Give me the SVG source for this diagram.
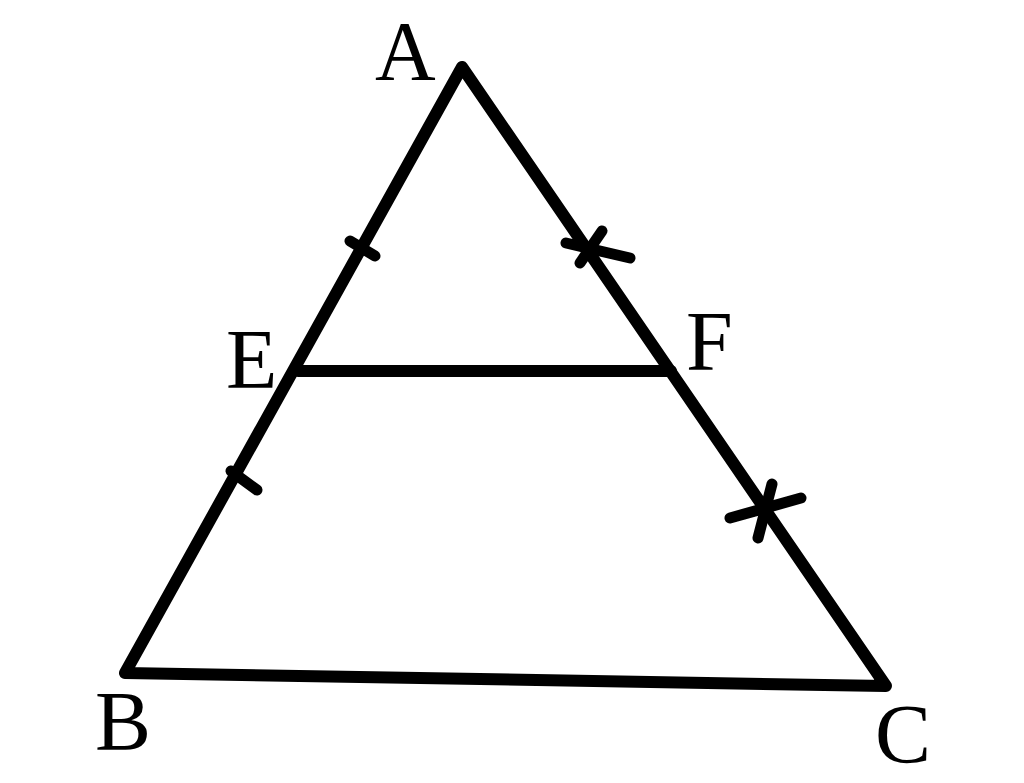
<svg xmlns="http://www.w3.org/2000/svg" width="1024" height="783" viewBox="0 0 1024 783">
<style>
.s{fill:none;stroke:#000;stroke-width:12;stroke-linecap:round;stroke-linejoin:round}
.t{stroke-width:11}
text{font-family:"Liberation Serif","Times New Roman",serif;font-size:84px;fill:#000}
</style>
<rect width="1024" height="783" fill="#fff"/>
<g id="connectors">
<path class="s" d="M462,67 L125,673 L886,686 Z"/>
<path class="s" d="M298,371 L671,371"/>
<path class="s t" d="M350,241 L375,256"/>
<path class="s t" d="M231,471 L257,490"/>
<path class="s t" d="M566,243 L630,258"/>
<path class="s t" d="M602,231 L580,263"/>
<path class="s t" d="M730,518 L801,498"/>
<path class="s t" d="M772,484 L758,538"/>
</g>
<g id="A"><text x="375" y="80">A</text></g>
<g id="E"><text x="226" y="388">E</text></g>
<g id="F"><text x="686" y="370">F</text></g>
<g id="B"><text x="95" y="750">B</text></g>
<g id="C"><text x="875" y="763">C</text></g>
</svg>
